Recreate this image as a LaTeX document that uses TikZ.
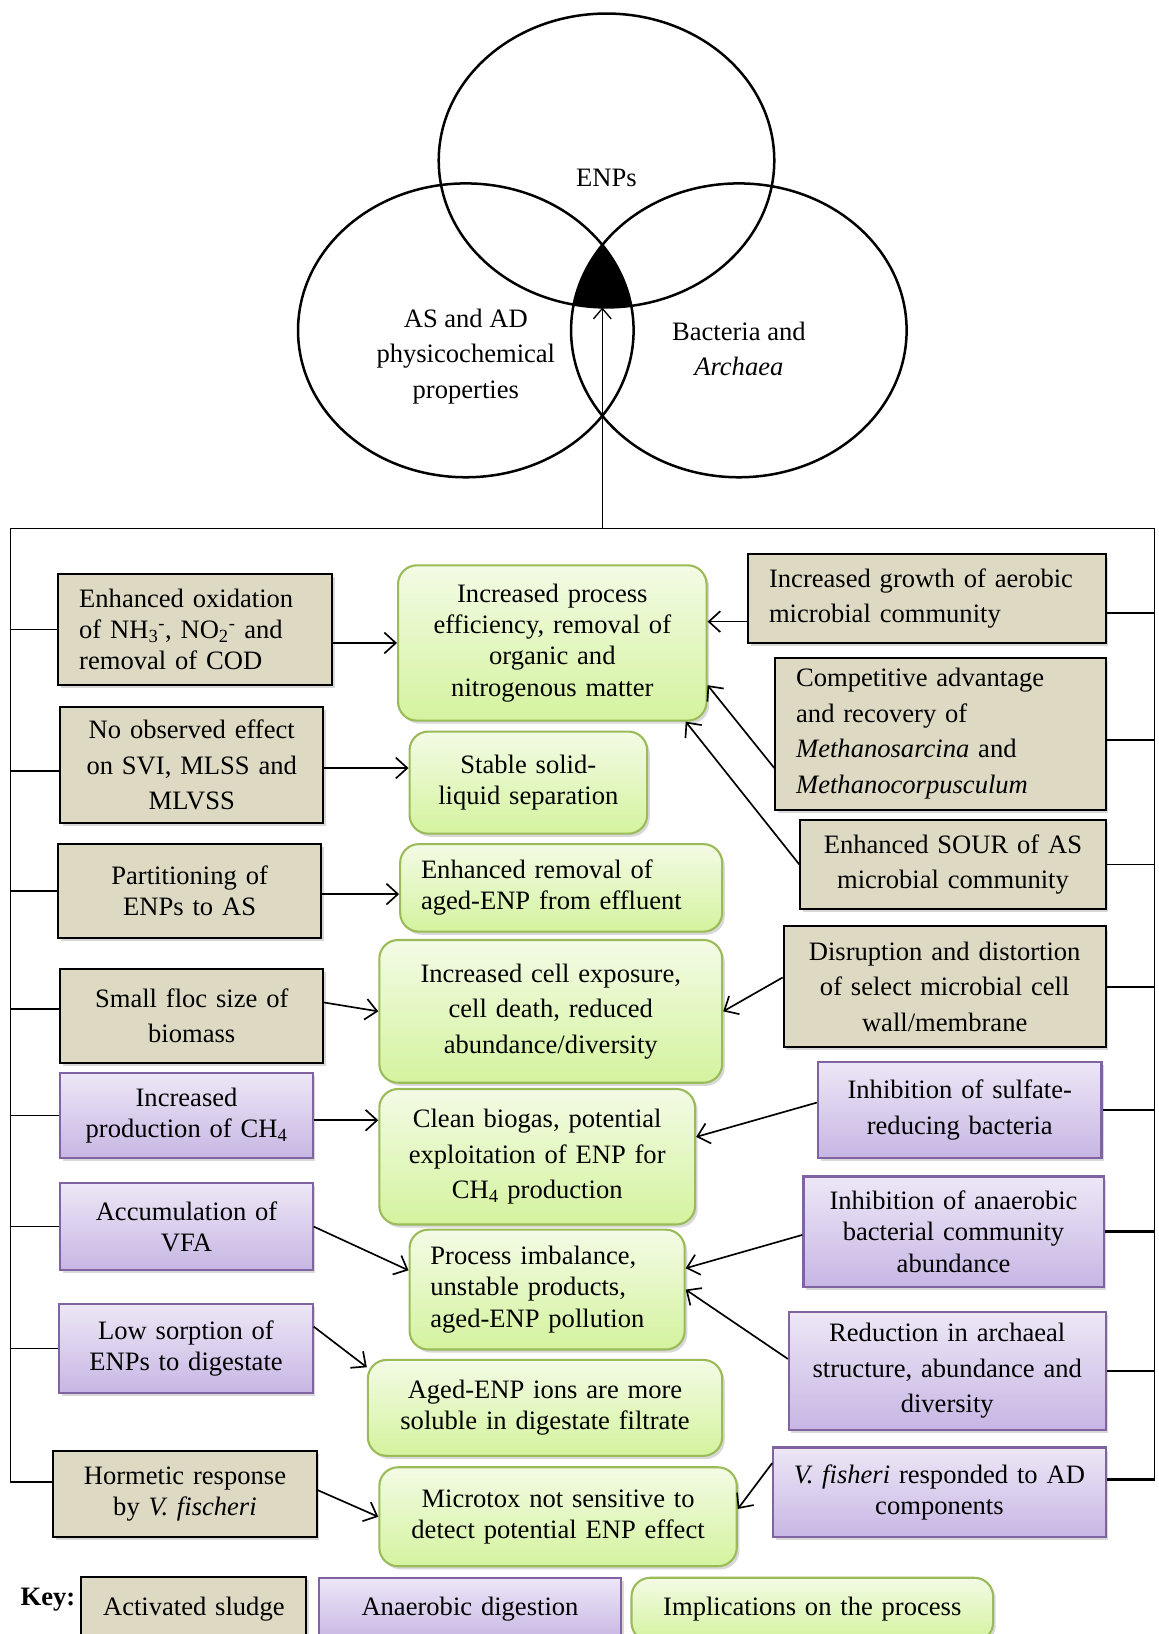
\documentclass[tikz,border=0pt]{standalone}
\usepackage{fontspec}
\setmainfont{Liberation Serif}
\usepackage{xcolor}
\usepackage{tikz}
\usetikzlibrary{arrows.meta,shadows}

\definecolor{asfill}{RGB}{221,217,195}
\definecolor{adline}{RGB}{128,100,162}
\definecolor{adtop}{RGB}{237,231,246}
\definecolor{adbot}{RGB}{199,182,228}
\definecolor{impline}{RGB}{155,187,89}
\definecolor{imptop}{RGB}{243,251,229}
\definecolor{impbot}{RGB}{212,243,158}

\begin{document}
\begin{tikzpicture}[x=1pt,y=-1pt,
    every node/.style={font=\fontsize{25.5}{30}\selectfont},
    loose/.style={font=\fontsize{25.5}{34}\selectfont},
    boxbase/.style={inner xsep=8pt, inner ysep=4pt, line width=2pt,
        drop shadow={shadow xshift=2.5pt, shadow yshift=-3pt, opacity=.3}},
    flush/.style={align=left, inner xsep=20pt},
    asbox/.style={boxbase, draw=black, fill=asfill, align=center},
    adbox/.style={boxbase, draw=adline, top color=adtop, bottom color=adbot, align=center},
    impbox/.style={boxbase, draw=impline, top color=imptop, bottom color=impbot,
        rounded corners=18pt, align=center},
    venn/.style={line width=2.4pt},
    link/.style={line width=1.6pt},
    heavy/.style={line width=2.6pt},
    arr/.style={-{Straight Barb[length=11pt,width=20pt]}, line width=1.6pt}]

\path[use as bounding box, fill=white] (0,0) rectangle (1112,1568);

% three overlapping sets
\begin{scope}
    \clip (582,154) ellipse [x radius=161pt, y radius=141pt];
    \clip (447,317) ellipse [x radius=161pt, y radius=141pt];
    \fill (709,317) ellipse [x radius=161pt, y radius=141pt];
\end{scope}
\draw[venn] (582,154) ellipse [x radius=161pt, y radius=141pt];
\draw[venn] (447,317) ellipse [x radius=161pt, y radius=141pt];
\draw[venn] (709,317) ellipse [x radius=161pt, y radius=141pt];
\node (enps) at (582,171) {ENPs};
\node[loose, align=center] (phys) at (447,342) {AS and AD\\physicochemical\\properties};
\node[loose, align=center] (bact) at (709,335) {Bacteria and\\\textit{Archaea}};

% left column
\node[asbox, flush, text width=223pt, minimum height=106pt] (enhox) at (187.5,604)
    {Enhanced oxidation\\of NH\textsubscript{3}\textsuperscript{-}, NO\textsubscript{2}\textsuperscript{-} and\\removal of COD};
\node[asbox, loose, text width=236pt, minimum height=112pt] (noeff) at (184,734)
    {No observed effect\\on SVI, MLSS and\\MLVSS};
\node[asbox, text width=236pt, minimum height=90pt] (part) at (182,855)
    {Partitioning of\\ENPs to AS};
\node[asbox, loose, text width=236pt, minimum height=90pt] (floc) at (184,975)
    {Small floc size of\\biomass};
\node[adbox, text width=226pt, minimum height=81pt] (ch4) at (179,1070.5)
    {Increased\\production of CH\textsubscript{4}};
\node[adbox, text width=226pt, minimum height=84pt] (vfa) at (179,1177)
    {Accumulation of\\VFA};
\node[adbox, text width=227pt, minimum height=86pt] (sorp) at (178.5,1294)
    {Low sorption of\\ENPs to digestate};
\node[asbox, text width=237pt, minimum height=83pt] (horm) at (177.5,1433.5)
    {Hormetic response\\by \textit{V. fischeri}};

% middle column
\node[impbox, text width=280pt, minimum height=149pt] (g1) at (530,617)
    {Increased process\\efficiency, removal of\\organic and\\nitrogenous matter};
\node[impbox, text width=212pt, minimum height=98pt] (g2) at (507,751)
    {Stable solid-\\liquid separation};
\node[impbox, flush, text width=269pt, minimum height=84pt] (g3) at (538.5,852)
    {Enhanced removal of\\aged-ENP from effluent};
\node[impbox, loose, text width=313pt, minimum height=137pt] (g4) at (528.5,970.5)
    {Increased cell exposure,\\cell death, reduced\\abundance/diversity};
\node[impbox, loose, text width=287pt, minimum height=130pt] (g5) at (515.5,1110)
    {Clean biogas, potential\\exploitation of ENP for\\CH\textsubscript{4} production};
\node[impbox, flush, text width=224pt, minimum height=115pt] (g6) at (525,1237.5)
    {Process imbalance,\\unstable products,\\aged-ENP pollution};
\node[impbox, text width=324pt, minimum height=92pt] (g7) at (523,1351)
    {Aged-ENP ions are more\\soluble in digestate filtrate};
\node[impbox, text width=327pt, minimum height=95pt] (g8) at (535.5,1455.5)
    {Microtox not sensitive to\\detect potential ENP effect};

% right column
\node[asbox, flush, loose, text width=303pt, minimum height=85pt] (aer) at (889.5,574.5)
    {Increased growth of aerobic\\microbial community};
\node[asbox, flush, loose, text width=277pt, minimum height=146pt] (comp) at (902.5,704)
    {Competitive advantage\\and recovery of\\\textit{Methanosarcina} and\\\textit{Methanocorpusculum}};
\node[asbox, loose, text width=277pt, minimum height=85pt] (sour) at (914.5,829.5)
    {Enhanced SOUR of AS\\microbial community};
\node[asbox, loose, text width=293pt, minimum height=116pt] (disr) at (906.5,947)
    {Disruption and distortion\\of select microbial cell\\wall/membrane};
\node[adbox, loose, text width=256pt, minimum height=92pt] (srb) at (921,1065)
    {Inhibition of sulfate-\\reducing bacteria};
\node[adbox, text width=272pt, minimum height=106pt] (anaer) at (915,1182)
    {Inhibition of anaerobic\\bacterial community\\abundance};
\node[adbox, loose, text width=288pt, minimum height=113pt] (arch) at (909,1315.5)
    {Reduction in archaeal\\structure, abundance and\\diversity};
\node[adbox, text width=303pt, minimum height=86pt] (vfish) at (901.5,1432)
    {\textit{V. fisheri} responded to AD\\components};

% key
\node[font=\bfseries\fontsize{25.5}{30}\selectfont] (key) at (46,1535) {Key:};
\node[asbox, text width=200pt, minimum height=62pt] (keyas) at (186,1544) {Activated sludge};
\node[adbox, text width=274pt, minimum height=61pt] (keyad) at (451,1544.5) {Anaerobic digestion};
\node[impbox, text width=331pt, minimum height=61pt] (keyimp) at (779.5,1544.5) {Implications on the process};

% frame
\coordinate (ftl) at (10,507);
\coordinate (ftr) at (1108,507);
\coordinate (fbl) at (10,1422);
\coordinate (fbr) at (1108,1420);
\coordinate (hub) at (578,507);
\coordinate (core) at (578,295);
\draw[link] (fbl) -- (ftl) -- (ftr) -- (fbr);
\draw[line width=1.3pt, -{Straight Barb[length=10pt,width=17pt]}] (hub) -- (core);

\draw[link] (enhox.west) -- (enhox.west -| ftl);
\draw[link] ([yshift=-6pt]noeff.west) -- ([yshift=-6pt]noeff.west -| ftl);
\draw[heavy] (part.west) -- (part.west -| ftl);
\draw[link] ([yshift=7pt]floc.west) -- ([yshift=7pt]floc.west -| ftl);
\draw[link] (ch4.west) -- (ch4.west -| ftl);
\draw[link] (vfa.west) -- (vfa.west -| ftl);
\draw[link] (sorp.west) -- (sorp.west -| ftl);
\draw[heavy] (fbl) -- (fbl -| horm.west);

\draw[link] ([yshift=-13.5pt]aer.east) -- ([yshift=-13.5pt]aer.east -| ftr);
\draw[link] ([yshift=-6pt]comp.east) -- ([yshift=-6pt]comp.east -| ftr);
\draw[link] (sour.east) -- (sour.east -| ftr);
\draw[heavy] (disr.east) -- (disr.east -| ftr);
\draw[link] (srb.east) -- (srb.east -| ftr);
\draw[heavy] (anaer.east) -- (anaer.east -| ftr);
\draw[heavy] (arch.east) -- (arch.east -| ftr);
\draw[heavy] (fbr) -- (fbr -| vfish.east);

% effects to implications
\draw[arr] ([yshift=-13pt]enhox.east) -- ([yshift=-13pt]enhox.east -| g1.west);
\draw[arr] ([yshift=-3pt]noeff.east) -- ([yshift=-3pt]noeff.east -| g2.west);
\draw[arr] ([yshift=-3pt]part.east) -- ([yshift=-3pt]part.east -| g3.west);
\draw[arr] ([yshift=13pt]floc.east) -- (g4.west);
\draw[arr] ([yshift=-4.5pt]ch4.east) -- ([yshift=-4.5pt]ch4.east -| g5.west);
\draw[arr] (vfa.east) -- ([yshift=18.5pt]g6.west);
\draw[arr] ([yshift=21pt]sorp.east) -- ([yshift=-8pt]g7.north west);
\draw[arr] ([yshift=3.5pt]horm.east) -- (g8.west);

\draw[arr] ([yshift=-22pt]aer.west) -- ([yshift=-22pt]aer.west -| g1.east);
\draw[arr] ([yshift=-33pt]comp.west) -- ([yshift=-40.5pt]g1.east);
\draw[arr] (sour.west) -- ([xshift=-21pt]g1.south east);
\draw[arr] ([yshift=9pt]disr.west) -- (g4.east);
\draw[arr] ([yshift=7pt]srb.west) -- ([yshift=19pt]g5.east);
\draw[arr] ([yshift=-3pt]anaer.west) -- ([yshift=20.5pt]g6.east);
\draw[arr] ([yshift=11.5pt]arch.west) -- (g6.east);
\draw[arr] ([yshift=28pt]vfish.west) -- ([yshift=7.5pt]g8.east);
\end{tikzpicture}
\end{document}
